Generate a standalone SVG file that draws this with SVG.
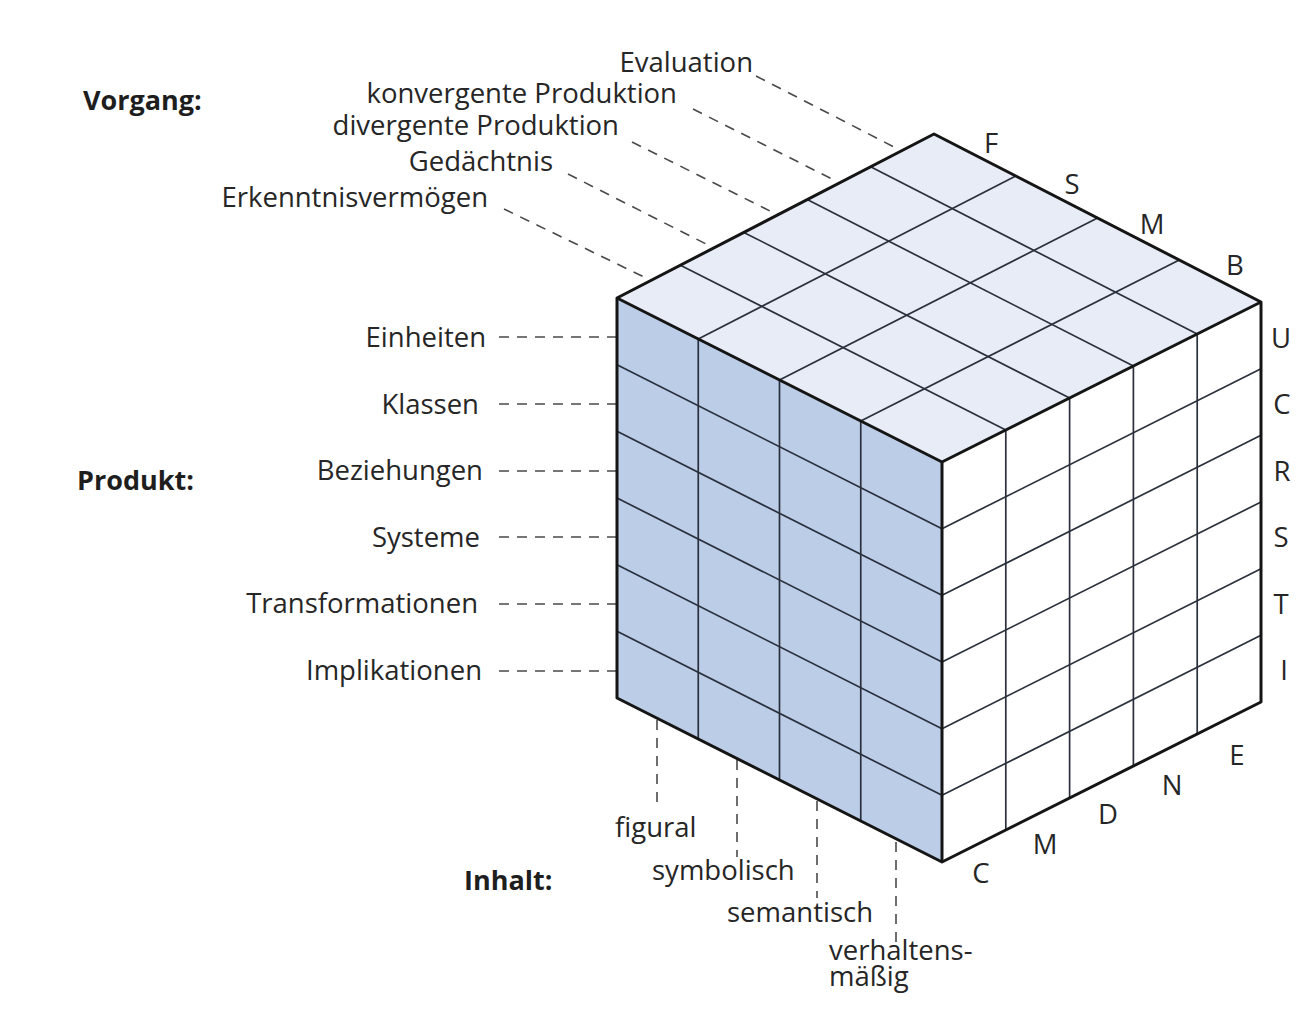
<svg xmlns="http://www.w3.org/2000/svg" width="1302" height="1018" viewBox="0 0 1302 1018">
<style>
.t{font-family:"Open Sans","Noto Sans","Liberation Sans",sans-serif;font-size:27.5px;fill:#262626}
.b{font-weight:bold;fill:#1e1e1e;font-size:27px}
.e{text-anchor:end}
.m{text-anchor:middle}
.lead{stroke:#4a4a4a;stroke-width:1.6;stroke-dasharray:10 8;fill:none}
.grid{stroke:#2a303c;stroke-width:1.7;fill:none}
.edge{stroke:#151515;stroke-width:3;fill:none;stroke-linejoin:round}
</style>
<rect width="1302" height="1018" fill="#ffffff"/>

<g id="connectors">
  <line class="lead" x1="756" y1="76" x2="896" y2="148"/>
  <line class="lead" x1="693" y1="109" x2="834" y2="180"/>
  <line class="lead" x1="632" y1="142" x2="772" y2="212"/>
  <line class="lead" x1="568" y1="174" x2="708" y2="245"/>
  <line class="lead" x1="504" y1="209" x2="644" y2="277"/>
  <line class="lead" x1="499" y1="337" x2="616" y2="337"/>
  <line class="lead" x1="499" y1="404" x2="616" y2="404"/>
  <line class="lead" x1="499" y1="471" x2="616" y2="471"/>
  <line class="lead" x1="499" y1="537" x2="616" y2="537"/>
  <line class="lead" x1="499" y1="604" x2="616" y2="604"/>
  <line class="lead" x1="499" y1="671" x2="616" y2="671"/>
  <line class="lead" x1="657" y1="720" x2="657" y2="810"/>
  <line class="lead" x1="737" y1="760" x2="737" y2="857"/>
  <line class="lead" x1="817" y1="801" x2="817" y2="898"/>
  <line class="lead" x1="896" y1="842" x2="896" y2="943"/>
</g>

<g id="cube">
  <g id="face-top">
    <polygon points="617,298 934,134 1261,302 942,462" fill="#e8ecf6"/>
    <g class="grid">
      <line x1="680.4" y1="265.2" x2="1005.8" y2="430"/>
      <line x1="743.8" y1="232.4" x2="1069.6" y2="398"/>
      <line x1="807.2" y1="199.6" x2="1133.4" y2="366"/>
      <line x1="870.6" y1="166.8" x2="1197.2" y2="334"/>
      <line x1="698.25" y1="339" x2="1015.75" y2="176"/>
      <line x1="779.5" y1="380" x2="1097.5" y2="218"/>
      <line x1="860.75" y1="421" x2="1179.25" y2="260"/>
    </g>
  </g>
  <g id="face-left">
    <polygon points="617,298 942,462 942,862 617,698" fill="#bccde7"/>
    <g class="grid">
      <line x1="698.25" y1="339" x2="698.25" y2="739"/>
      <line x1="779.5" y1="380" x2="779.5" y2="780"/>
      <line x1="860.75" y1="421" x2="860.75" y2="821"/>
      <line x1="617" y1="364.7" x2="942" y2="528.7"/>
      <line x1="617" y1="431.3" x2="942" y2="595.3"/>
      <line x1="617" y1="498" x2="942" y2="662"/>
      <line x1="617" y1="564.7" x2="942" y2="728.7"/>
      <line x1="617" y1="631.3" x2="942" y2="795.3"/>
    </g>
  </g>
  <g id="face-right">
    <polygon points="942,462 1261,302 1261,702 942,862" fill="#ffffff"/>
    <g class="grid">
      <line x1="1005.8" y1="430" x2="1005.8" y2="830"/>
      <line x1="1069.6" y1="398" x2="1069.6" y2="798"/>
      <line x1="1133.4" y1="366" x2="1133.4" y2="766"/>
      <line x1="1197.2" y1="334" x2="1197.2" y2="734"/>
      <line x1="942" y1="528.7" x2="1261" y2="368.7"/>
      <line x1="942" y1="595.3" x2="1261" y2="435.3"/>
      <line x1="942" y1="662" x2="1261" y2="502"/>
      <line x1="942" y1="728.7" x2="1261" y2="568.7"/>
      <line x1="942" y1="795.3" x2="1261" y2="635.3"/>
    </g>
  </g>
  <g id="edges" class="edge">
    <polygon points="617,298 934,134 1261,302 1261,702 942,862 617,698"/>
    <polyline points="617,298 942,462 1261,302"/>
    <line x1="942" y1="462" x2="942" y2="862"/>
  </g>
</g>

<g id="vorgang">
  <text class="t b" x="83" y="110">Vorgang:</text>
  <text class="t e" x="753" y="72">Evaluation</text>
  <text class="t e" x="677" y="103">konvergente Produktion</text>
  <text class="t e" x="619" y="135">divergente Produktion</text>
  <text class="t e" x="553" y="171">Gedächtnis</text>
  <text class="t e" x="488" y="207">Erkenntnisvermögen</text>
</g>

<g id="produkt">
  <text class="t b" x="77" y="490">Produkt:</text>
  <text class="t e" x="486" y="347">Einheiten</text>
  <text class="t e" x="479" y="414">Klassen</text>
  <text class="t e" x="483" y="480">Beziehungen</text>
  <text class="t e" x="480" y="547">Systeme</text>
  <text class="t e" x="478" y="613">Transformationen</text>
  <text class="t e" x="482" y="680">Implikationen</text>
</g>

<g id="inhalt">
  <text class="t b" x="464" y="890">Inhalt:</text>
  <text class="t" x="615" y="837">figural</text>
  <text class="t" x="652" y="880">symbolisch</text>
  <text class="t" x="727" y="922">semantisch</text>
  <text class="t" x="829" y="960">verhaltens-<tspan x="829" dy="26">mäßig</tspan></text>
</g>

<g id="letters-top">
  <text class="t m" x="991" y="153">F</text>
  <text class="t m" x="1072" y="194">S</text>
  <text class="t m" x="1152" y="234">M</text>
  <text class="t m" x="1235" y="275">B</text>
</g>

<g id="letters-right">
  <text class="t m" x="1281" y="348">U</text>
  <text class="t m" x="1282" y="414">C</text>
  <text class="t m" x="1282" y="481">R</text>
  <text class="t m" x="1281" y="547">S</text>
  <text class="t m" x="1281" y="614">T</text>
  <text class="t m" x="1284" y="680">I</text>
</g>

<g id="letters-bottom">
  <text class="t m" x="981" y="883">C</text>
  <text class="t m" x="1045" y="854">M</text>
  <text class="t m" x="1108" y="824">D</text>
  <text class="t m" x="1172" y="795">N</text>
  <text class="t m" x="1237" y="765">E</text>
</g>
</svg>
